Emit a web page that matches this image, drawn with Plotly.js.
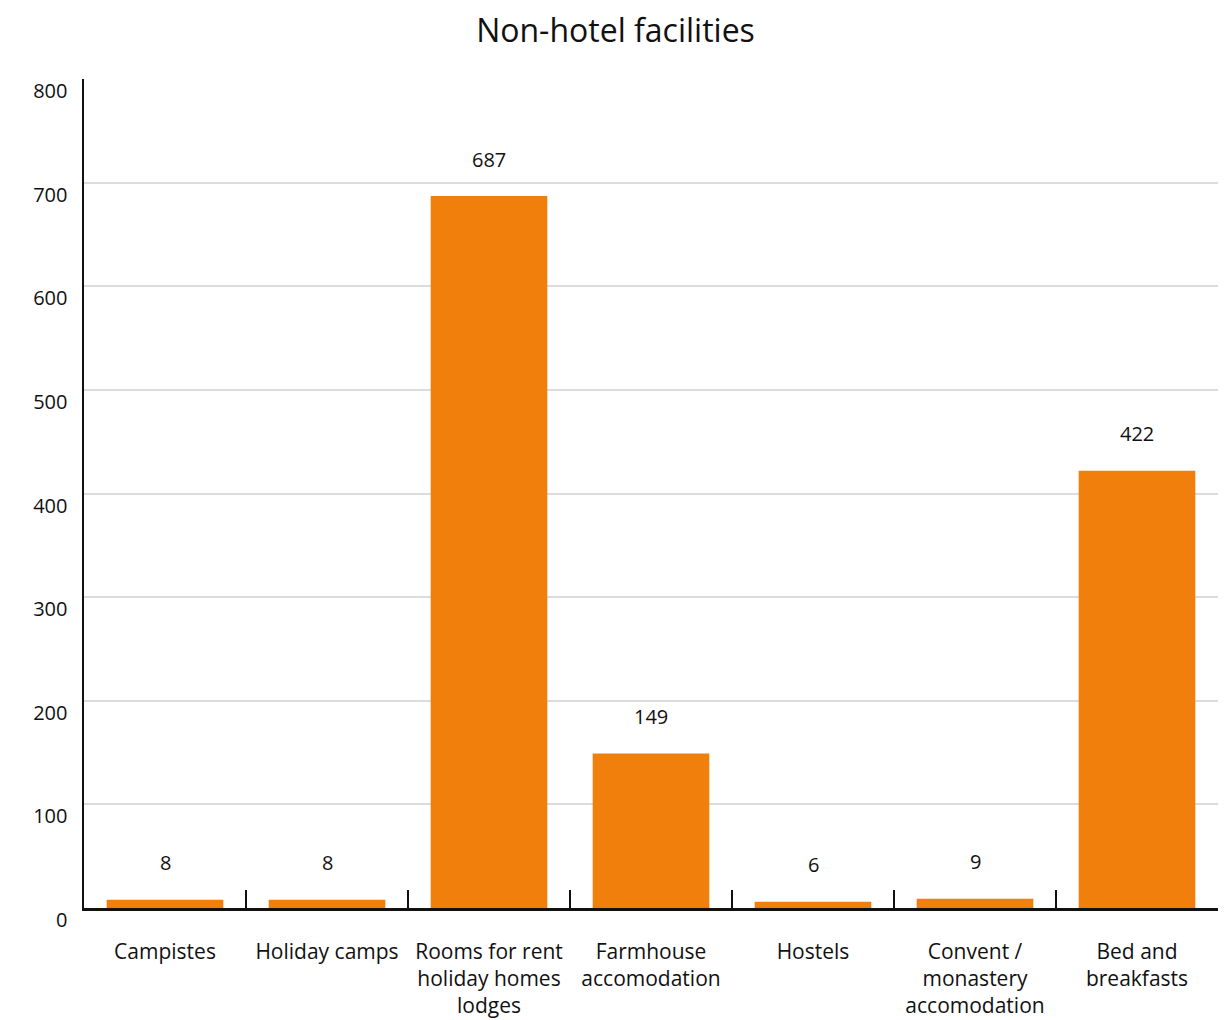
<!DOCTYPE html>
<html>
<head>
<meta charset="utf-8">
<script src="https://cdn.plot.ly/plotly-3.0.1.min.js"></script>
<style>html,body{margin:0;padding:0;background:#fff;}#chart{width:1231px;height:1020px;}</style>
</head>
<body>
<div id="chart"></div>
<script>
const categories = [
  "Campistes",
  "Holiday camps",
  "Rooms for rent<br>holiday homes<br>lodges",
  "Farmhouse<br>accomodation",
  "Hostels",
  "Convent /<br>monastery<br>accomodation",
  "Bed and<br>breakfasts"
];
const values = [8, 8, 687, 149, 6, 9, 422];
const yTicks = [0, 100, 200, 300, 400, 500, 600, 700, 800];

const FONT = "Open Sans, Noto Sans, sans-serif";

const trace = {
  type: "bar",
  x: categories,
  y: values,
  marker: {color: "#F07F0C"},
  hoverinfo: "x+y"
};

const annotations = categories.map((c, i) => ({
  x: c, y: values[i], xref: "x", yref: "y",
  text: String(values[i]),
  showarrow: false,
  yanchor: "middle",
  yshift: 37,
  font: {family: FONT, size: 20, color: "#111"}
}));

const layout = {
  width: 1231, height: 1020,
  margin: {l: 84, r: 13, t: 79, b: 112},
  paper_bgcolor: "#fff", plot_bgcolor: "#fff",
  title: {text: "Non-hotel facilities", x: 0.5, xanchor: "center", y: 0.97, yanchor: "middle",
          font: {family: FONT, size: 32, color: "#111"}},
  bargap: 0.28,
  showlegend: false,
  xaxis: {
    type: "category",
    tickson: "boundaries",
    ticks: "inside", ticklen: 18, tickwidth: 2, tickcolor: "#111",
    showline: true, linecolor: "#111", linewidth: 2.5,
    showgrid: false,
    tickangle: 0,
    tickfont: {family: FONT, size: 21, color: "#111"},
    ticklabelstandoff: 23,
    fixedrange: true
  },
  yaxis: {
    range: [0, 800],
    tickvals: yTicks,
    ticktext: yTicks.map(String),
    showline: true, linecolor: "#111", linewidth: 2.5,
    showgrid: true, gridcolor: "#dcdcdc", gridwidth: 2,
    zeroline: false,
    ticks: "",
    tickfont: {family: FONT, size: 20, color: "#111"},
    ticklabelstandoff: 10,
    ticklabelshift: 12,
    fixedrange: true
  },
  annotations: annotations
};

Plotly.newPlot("chart", [trace], layout, {displayModeBar: false, staticPlot: true});
</script>
</body>
</html>
